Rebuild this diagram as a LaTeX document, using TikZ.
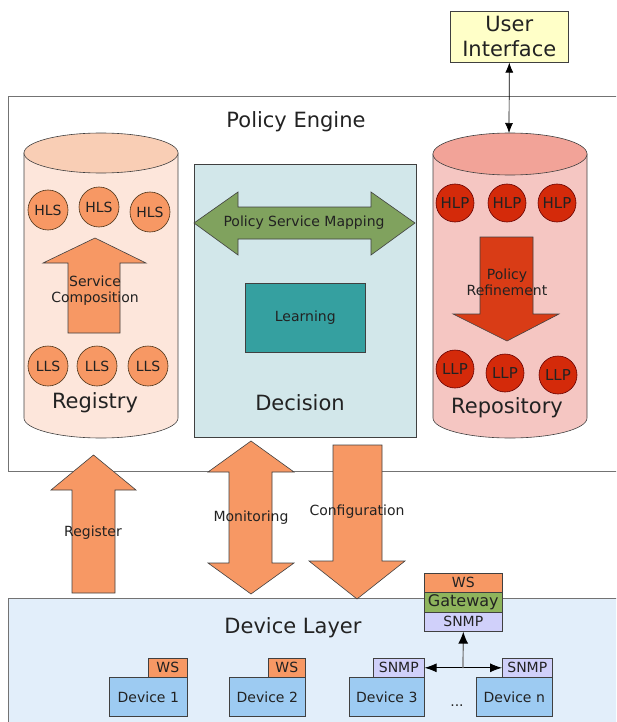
\documentclass[tikz,border=0pt]{standalone}
\usepackage{fontspec}
\setmainfont{DejaVu Sans}
\usetikzlibrary{arrows.meta}
\definecolor{orangeC}{HTML}{F79864}
\definecolor{regbody}{HTML}{FDE6DB}
\definecolor{regtop}{HTML}{F9CEB5}
\definecolor{repobody}{HTML}{F5C6C2}
\definecolor{repotop}{HTML}{F2A398}
\definecolor{redC}{HTML}{D42A0A}
\definecolor{redArrow}{HTML}{D93C16}
\definecolor{decC}{HTML}{D2E7EA}
\definecolor{learnC}{HTML}{35A0A0}
\definecolor{greenC}{HTML}{80A25E}
\definecolor{layerC}{HTML}{E2EEFA}
\definecolor{devC}{HTML}{9DCBF2}
\definecolor{snmpC}{HTML}{D0D0FA}
\definecolor{gateC}{HTML}{8EB45C}
\definecolor{uiC}{HTML}{FFFFC8}
\definecolor{txt}{HTML}{222222}
\begin{document}
\begin{tikzpicture}[x=1pt,y=1pt,
  >={Latex[length=10pt,width=8pt]},
  ol/.style={draw=black!75, line width=0.6pt},
  frame/.style={draw=black!55, line width=0.8pt},
  big/.style={font=\fontsize{21}{25}\selectfont, text=txt, align=center, inner sep=0},
  lab/.style={font=\fontsize{14}{16}\selectfont, text=txt, align=center, inner sep=0},
  hls/.style={circle, draw=black!60!brown, line width=0.6pt, fill=orangeC, minimum size=40, inner sep=0, font=\fontsize{14}{16}\selectfont, text=txt},
  hlp/.style={circle, draw=black!60!red, line width=0.6pt, fill=redC, minimum size=38, inner sep=0, font=\fontsize{15}{16}\selectfont, text=txt},
  boxn/.style={rectangle, ol, anchor=north west, inner sep=0, font=\fontsize{14}{16}\selectfont, text=txt},
]
\useasboundingbox (0,0) rectangle (616,-722);
\clip (0,0) rectangle (616,-722);

% Policy engine frame
\draw[frame] (8,-96) rectangle (640,-471);
\node[big] (pe) at (296,-122) {Policy Engine};

% Device layer
\filldraw[frame, fill=layerC] (8,-598) rectangle (640,-740);
\node[big] (dl) at (293,-628) {Device Layer};

% User interface
\node[boxn, fill=uiC, minimum width=118, minimum height=51, align=center,
      font=\fontsize{21}{25}\selectfont] (ui) at (450,-11) {User\\Interface};

% Registry cylinder
\filldraw[ol, fill=regbody] (24,-153) -- (24,-418)
  arc[start angle=180, end angle=360, x radius=77, y radius=20] -- (178,-153) -- cycle;
\filldraw[ol, fill=regtop] (101,-153) ellipse[x radius=77, y radius=20];
\node[hls] (hls1) at (48,-210) {HLS};
\node[hls] (hls2) at (99,-207) {HLS};
\node[hls] (hls3) at (150,-212) {HLS};
\filldraw[ol, fill=orangeC] (68,-333) -- (68,-263) -- (43,-263) -- (95,-238)
  -- (146,-263) -- (120,-263) -- (120,-333) -- cycle;
\node[lab] (sc) at (95,-291) {Service\\Composition};
\node[hls] (lls1) at (48,-366) {LLS};
\node[hls] (lls2) at (97,-366) {LLS};
\node[hls] (lls3) at (148,-366) {LLS};
\node[big] (reg) at (95,-403) {Registry};

% Decision
\node[boxn, fill=decC, minimum width=222, minimum height=273] (dec) at (194,-164) {};
\filldraw[ol, fill=greenC] (194,-223) -- (238,-192) -- (238,-207) -- (371,-207)
  -- (371,-192) -- (415,-223) -- (371,-255) -- (371,-239) -- (238,-239)
  -- (238,-255) -- cycle;
\node[lab] (psm) at (304,-223) {Policy Service Mapping};
\node[boxn, fill=learnC, minimum width=120, minimum height=69] (learn) at (245,-283) {Learning};
\node[big] (decl) at (300,-403) {Decision};

% Repository cylinder
\filldraw[ol, fill=repobody] (433,-154) -- (433,-418)
  arc[start angle=180, end angle=360, x radius=77, y radius=20] -- (587,-154) -- cycle;
\filldraw[ol, fill=repotop] (510,-154) ellipse[x radius=77, y radius=21];
\coordinate (repotopc) at (509,-133);
\node[hlp] (hlp1) at (455,-203) {HLP};
\node[hlp] (hlp2) at (507,-203) {HLP};
\node[hlp] (hlp3) at (557,-203) {HLP};
\filldraw[ol, fill=redArrow] (480,-237) -- (480,-314) -- (453,-314) -- (507,-341)
  -- (559,-314) -- (533,-314) -- (533,-237) -- cycle;
\node[lab] (pr) at (507,-282) {Policy\\Refinement};
\node[hlp] (llp1) at (455,-369) {LLP};
\node[hlp] (llp2) at (505,-373) {LLP};
\node[hlp] (llp3) at (558,-375) {LLP};
\node[big] (repo) at (507,-408) {Repository};

% UI <-> repository
\draw[black, line width=0.7pt, <->] (ui.south) -- (repotopc);

% Register
\filldraw[ol, fill=orangeC] (72,-593) -- (72,-490) -- (51,-490) -- (93.5,-455)
  -- (136,-490) -- (115,-490) -- (115,-593) -- cycle;
\node[lab] (regl) at (93,-533) {Register};
% Monitoring
\filldraw[ol, fill=orangeC] (229,-472) -- (208,-472) -- (251,-441) -- (294,-472)
  -- (272,-472) -- (272,-563) -- (294,-563) -- (251,-594) -- (208,-563)
  -- (229,-563) -- cycle;
\node[lab] (mon) at (251,-518) {Monitoring};
% Configuration
\filldraw[ol, fill=orangeC] (333,-445) -- (333,-561) -- (309,-561) -- (357,-599)
  -- (405,-561) -- (382,-561) -- (382,-445) -- cycle;
\node[lab] (conf) at (357,-512) {Configuration};

% Gateway stack
\node[boxn, fill=orangeC, minimum width=78, minimum height=19] (gws) at (424,-573) {WS};
\node[boxn, fill=gateC, minimum width=78, minimum height=20, font=\fontsize{16}{18}\selectfont] (gw) at (424,-592) {Gateway};
\node[boxn, fill=snmpC, minimum width=78, minimum height=19] (gsnmp) at (424,-612) {SNMP};

% Devices
\node[boxn, fill=devC, minimum width=78, minimum height=39] (d1) at (109,-677) {Device 1};
\node[boxn, fill=orangeC, minimum width=39, minimum height=19] (ws1) at (148,-658) {WS};
\node[boxn, fill=devC, minimum width=76, minimum height=39] (d2) at (229,-677) {Device 2};
\node[boxn, fill=orangeC, minimum width=37, minimum height=19] (ws2) at (268,-658) {WS};
\node[boxn, fill=devC, minimum width=75, minimum height=39] (d3) at (349,-677) {Device 3};
\node[boxn, fill=snmpC, minimum width=51, minimum height=19] (s3) at (373,-658) {SNMP};
\node[boxn, fill=devC, minimum width=76, minimum height=39] (dn) at (476,-677) {Device n};
\node[boxn, fill=snmpC, minimum width=50, minimum height=19] (sn) at (502,-658) {SNMP};
\node[lab] (dots) at (457,-706) {...};

\coordinate (junc) at (463,-668);
\draw[black, line width=0.8pt, {Latex[length=12pt,width=9pt]}-{Latex[length=12pt,width=9pt]}] (s3.east) -- (sn.west);
\draw[black!55, line width=1.2pt, -{Latex[length=12pt,width=10pt,black]}] (junc) -- (gsnmp.south);
\end{tikzpicture}
\end{document}
